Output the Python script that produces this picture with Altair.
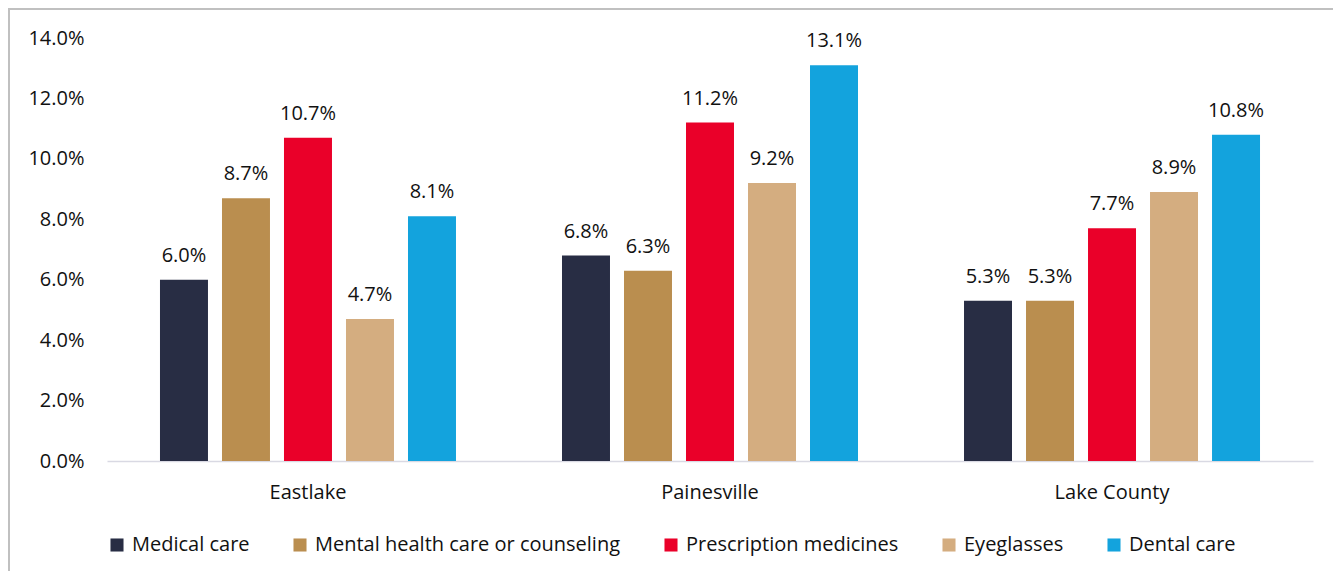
import altair as alt
import pandas as pd

groups = ["Eastlake", "Painesville", "Lake County"]
series = ["Medical care", "Mental health care or counseling",
          "Prescription medicines", "Eyeglasses", "Dental care"]
medical = [6.0, 6.8, 5.3]
mental = [8.7, 6.3, 5.3]
prescription = [10.7, 11.2, 7.7]
eyeglasses = [4.7, 9.2, 8.9]
dental = [8.1, 13.1, 10.8]
colors = ["#282D44", "#BA8E4F", "#EA0029", "#D4AD80", "#13A3DD"]
y_ticks = [0, 2, 4, 6, 8, 10, 12, 14]

values_by_series = [medical, mental, prescription, eyeglasses, dental]
rows = []
for s, vals in zip(series, values_by_series):
    for g, v in zip(groups, vals):
        rows.append({"group": g, "series": s, "value": v / 100})
df = pd.DataFrame(rows)

FONT = "Open Sans"
FS = 20

x_enc = alt.X("group:N", sort=groups, title=None,
              scale=alt.Scale(paddingInner=0.2637, paddingOuter=0.1318),
              axis=alt.Axis(labelAngle=0, ticks=False, domainColor="#D9D9E3",
                            domainWidth=1.5, labelFontSize=FS, labelFont=FONT,
                            labelColor="#111111", labelPadding=21, grid=False))
xoff = alt.XOffset("series:N", sort=series,
                   scale=alt.Scale(paddingInner=0.226, paddingOuter=0))
y_enc = alt.Y("value:Q", title=None,
              scale=alt.Scale(domain=[0, 0.14], nice=False),
              axis=alt.Axis(values=[t / 100 for t in y_ticks], format=".1%",
                            domain=False, ticks=False, grid=False,
                            labelFontSize=FS, labelFont=FONT, labelColor="#111111",
                            labelPadding=23))
color_enc = alt.Color("series:N", sort=series,
                      scale=alt.Scale(domain=series, range=colors),
                      legend=alt.Legend(title=None, orient="none", direction="horizontal",
                                        legendX=0, legendY=497, symbolType="square",
                                        symbolSize=170, symbolStrokeWidth=0,
                                        labelFontSize=FS, labelFont=FONT,
                                        labelColor="#111111", labelOffset=5,
                                        labelLimit=1000,
                                        columnPadding=40, columns=5))

base = alt.Chart(df)
bars = base.mark_bar().encode(x=x_enc, xOffset=xoff, y=y_enc, color=color_enc)
labels = base.mark_text(baseline="bottom", dy=-14, fontSize=FS, font=FONT,
                        color="#111111").encode(
    x=alt.X("group:N", sort=groups), xOffset=alt.XOffset("series:N", sort=series),
    y="value:Q", text=alt.Text("value:Q", format=".1%"))

border_left = alt.Chart(df).mark_rule(color="#C0C0C0", strokeWidth=1.5).encode(
    x=alt.value(-98.5), y=alt.value(-30), y2=alt.value(600))
border_top = alt.Chart(df).mark_rule(color="#C0C0C0", strokeWidth=1.5).encode(
    x=alt.value(-99), x2=alt.value(1300), y=alt.value(-29.5))

chart = alt.layer(bars, labels, border_left, border_top).properties(
    width=1206, height=423,
    background="white",
    autosize=alt.AutoSizeParams(type="none"),
    padding={"left": 99, "top": 30, "right": 20, "bottom": 110},
).configure_view(strokeWidth=0, stroke=None)

chart.save("out.html", embed_options={"renderer": "svg", "actions": False})
